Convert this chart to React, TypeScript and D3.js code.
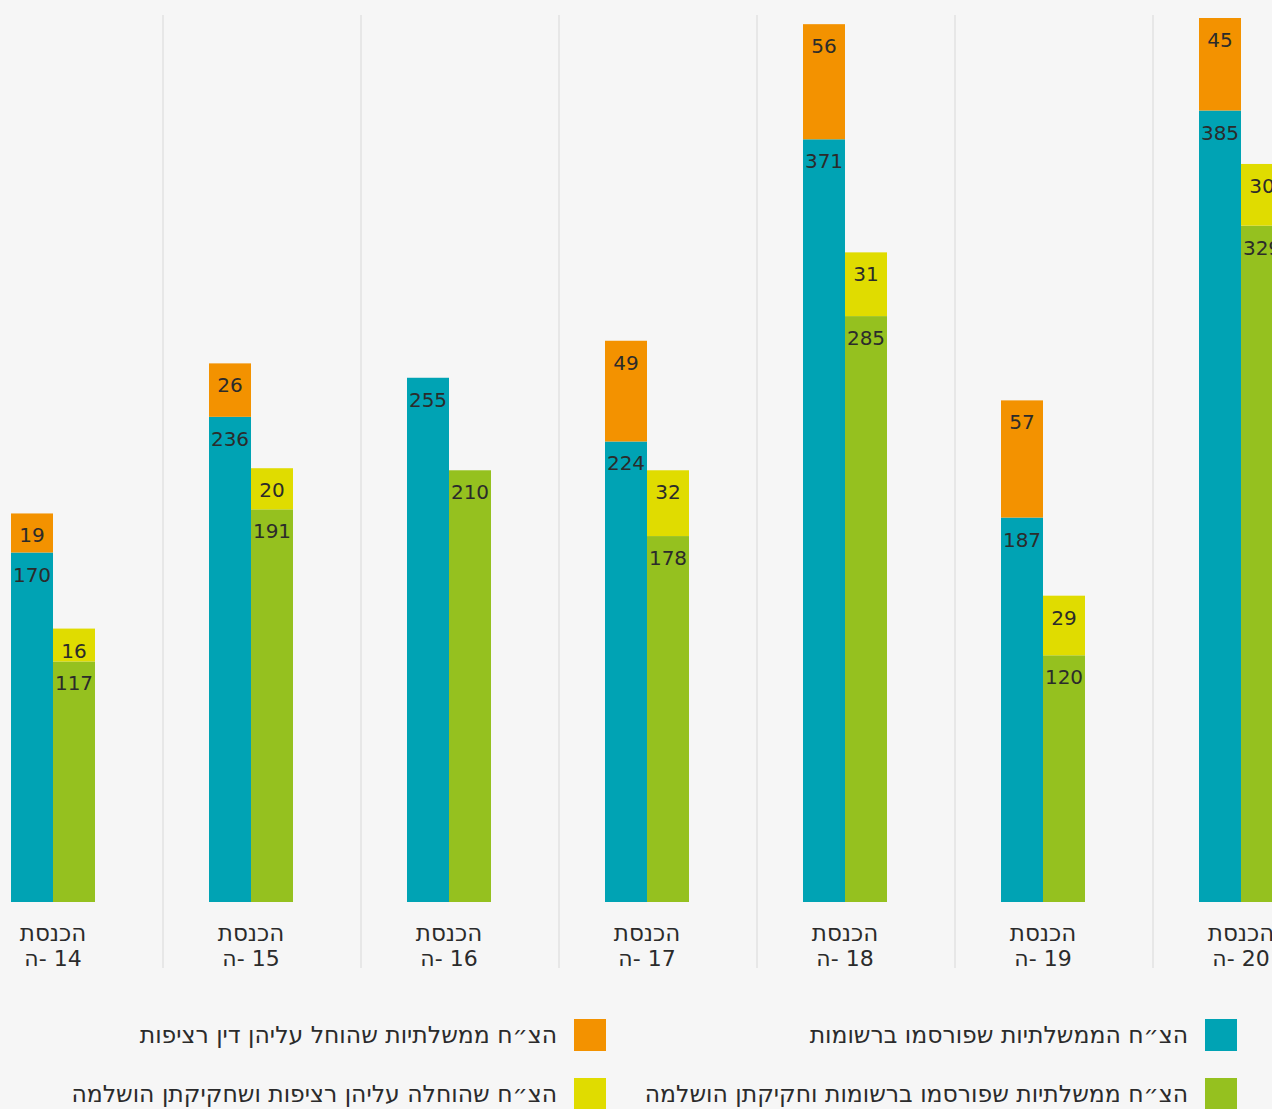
import React, {useEffect, useRef} from 'react';
import * as d3 from 'd3';

// Knesset numbers and bill counts
const knessets = ['14', '15', '16', '17', '18', '19', '20'];
const published = [170, 236, 255, 224, 371, 187, 385];
const continuity = [19, 26, 0, 49, 56, 57, 45];
const completed = [117, 191, 210, 178, 285, 120, 329];
const continuityCompleted = [16, 20, 0, 32, 31, 29, 30];

const legendItems = [
  {label: 'הצ״ח הממשלתיות שפורסמו ברשומות', color: '#00a3b4', col: 0, row: 0},
  {label: 'הצ״ח ממשלתיות שהוחל עליהן דין רציפות', color: '#f39200', col: 1, row: 0},
  {label: 'הצ״ח ממשלתיות שפורסמו ברשומות וחקיקתן הושלמה', color: '#95c11f', col: 0, row: 1},
  {label: 'הצ״ח שהוחלה עליהן רציפות ושחקיקתן הושלמה', color: '#e0dc00', col: 1, row: 1},
];

const W = 1272;
const H = 1109;
const FONT = '"DejaVu Sans", sans-serif';
const TEXT = '#2b2b2b';

export default function App() {
  const svgRef = useRef<SVGSVGElement>(null);

  useEffect(() => {
    if (!svgRef.current) return;
    const svg = d3.select(svgRef.current);
    svg.selectAll('*').remove();

    svg.append('rect').attr('width', W).attr('height', H).attr('fill', '#f6f6f6');

    const barW = 42;
    const x = d3.scaleLinear().domain([0, knessets.length - 1]).range([11, 1199]);
    const y = d3.scaleLinear().domain([0, 430]).range([902, 18]);

    // dividers between groups
    svg
      .append('g')
      .selectAll('line')
      .data(knessets.slice(1))
      .join('line')
      .attr('x1', (_, i) => x(i + 1) - 46)
      .attr('x2', (_, i) => x(i + 1) - 46)
      .attr('y1', 15)
      .attr('y2', 968)
      .attr('stroke', '#e2e2e2')
      .attr('stroke-width', 1.5);

    const segments: {x: number; base: number; value: number; color: string}[] = [];
    knessets.forEach((_, i) => {
      segments.push({x: x(i), base: 0, value: published[i], color: '#00a3b4'});
      segments.push({x: x(i), base: published[i], value: continuity[i], color: '#f39200'});
      segments.push({x: x(i) + barW, base: 0, value: completed[i], color: '#95c11f'});
      segments.push({
        x: x(i) + barW,
        base: completed[i],
        value: continuityCompleted[i],
        color: '#e0dc00',
      });
    });
    const shown = segments.filter((s) => s.value > 0);

    const g = svg.append('g');
    g.selectAll('rect')
      .data(shown)
      .join('rect')
      .attr('x', (d) => d.x)
      .attr('width', barW)
      .attr('y', (d) => y(d.base + d.value))
      .attr('height', (d) => y(d.base) - y(d.base + d.value))
      .attr('fill', (d) => d.color);

    g.selectAll('text')
      .data(shown)
      .join('text')
      .attr('x', (d) => d.x + barW / 2)
      .attr('y', (d) => y(d.base + d.value) + 22)
      .attr('text-anchor', 'middle')
      .attr('dominant-baseline', 'central')
      .attr('font-family', FONT)
      .attr('font-size', 20)
      .attr('fill', TEXT)
      .text((d) => d.value);

    // category labels
    const cat = svg.append('g').attr('font-family', FONT).attr('fill', TEXT);
    knessets.forEach((k, i) => {
      const cx = x(i) + barW;
      cat
        .append('text')
        .attr('x', cx)
        .attr('y', 933)
        .attr('text-anchor', 'middle')
        .attr('dominant-baseline', 'central')
        .attr('font-size', 23)
        .text('הכנסת');
      cat
        .append('text')
        .attr('x', cx)
        .attr('y', 958)
        .attr('text-anchor', 'middle')
        .attr('dominant-baseline', 'central')
        .attr('font-size', 22)
        .attr('direction', 'ltr')
        .attr('unicode-bidi', 'bidi-override')
        .style('direction', 'ltr')
        .style('unicode-bidi', 'bidi-override')
        .text(`ה- ${k}`);
    });

    // legend
    const legend = svg.append('g').attr('font-family', FONT).attr('fill', TEXT);
    const colX = [1205, 574];
    const rowY = [1019, 1078];
    legendItems.forEach((item) => {
      legend
        .append('rect')
        .attr('x', colX[item.col])
        .attr('y', rowY[item.row])
        .attr('width', 32)
        .attr('height', 32)
        .attr('fill', item.color);
      legend
        .append('text')
        .attr('x', colX[item.col] - 17)
        .attr('y', rowY[item.row] + 16)
        .attr('text-anchor', 'end')
        .attr('dominant-baseline', 'central')
        .attr('font-size', 23.5)
        .text(item.label);
    });
  }, []);

  return (
    <>
      <style>{'body{margin:0;overflow:hidden}'}</style>
      <svg ref={svgRef} width={W} height={H} style={{display: 'block'}} />
    </>
  );
}
